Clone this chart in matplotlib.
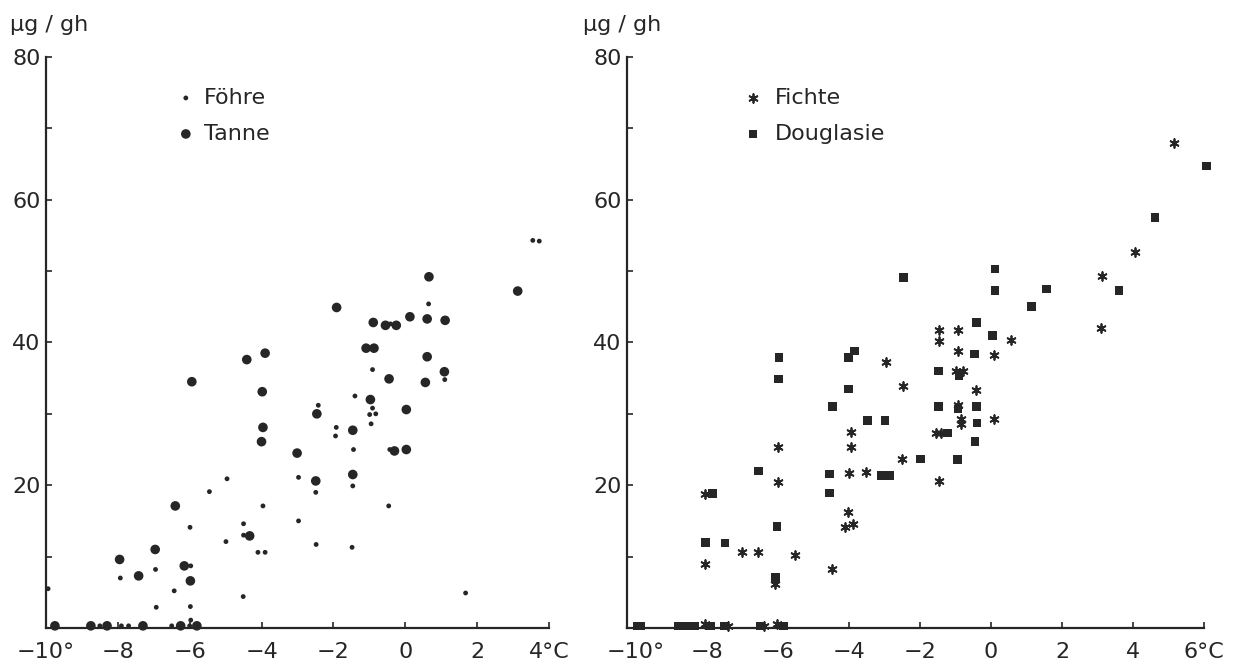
import matplotlib
matplotlib.use('Agg')
import matplotlib.pyplot as plt

# --- data (x = temperature degC, y = ug/gh) ---
foehre_x = [-0.41, 0.65, 3.55, 3.73, -0.91, 1.1, -1.4, -2.42, -0.91, -0.99, -0.82, -0.95,
            -1.92, -1.94, -1.44, -0.43, -1.46, -2.49, -2.97, -4.96, -5.45, -3.96, -0.46,
            -5.99, -4.5, -4.5, -4.99, -2.97, -4.1, -3.9, -2.48, -1.48, -5.97, -6.95, -7.93,
            -6.43, -6.93, -5.98, -5.97, -4.51, -9.94, 1.68,
            -8.5, -7.9, -7.7, -6.5, -6.0]
foehre_y = [42.6, 45.4, 54.3, 54.2, 36.2, 34.8, 32.5, 31.2, 30.8, 29.9, 30.0, 28.6,
            28.1, 26.9, 25.0, 25.0, 19.9, 19.0, 21.1, 20.9, 19.1, 17.1, 17.1,
            14.1, 14.6, 13.0, 12.1, 15.0, 10.6, 10.6, 11.7, 11.3, 8.7, 8.2, 7.0,
            5.2, 2.9, 3.0, 1.1, 4.4, 5.5, 4.9,
            0.3, 0.3, 0.3, 0.3, 0.3]

tanne_x = [-0.89, -0.55, -0.25, 0.13, 0.61, 1.11, 0.66, 3.13, -1.91, -3.9, -4.41, -5.94,
           -1.09, -0.87, 0.61, 1.09, -0.45, 0.56, -3.98, -0.97, 0.03, -2.46, -3.96, -4.0,
           -1.46, -3.01, -0.3, 0.03, -1.46, -2.49, -6.4, -4.33, -6.96, -7.95, -6.15, -7.42,
           -5.98,
           -9.75, -8.75, -8.3, -7.3, -6.25, -5.8]
tanne_y = [42.8, 42.4, 42.4, 43.6, 43.3, 43.1, 49.2, 47.2, 44.9, 38.5, 37.6, 34.5,
           39.2, 39.2, 38.0, 35.9, 34.9, 34.4, 33.1, 32.0, 30.6, 30.0, 28.1, 26.1,
           27.7, 24.5, 24.8, 25.0, 21.5, 20.6, 17.1, 12.9, 11.0, 9.6, 8.7, 7.3,
           6.6,
           0.3, 0.3, 0.3, 0.3, 0.3, 0.3]

fichte_x = [-1.45, -0.92, -1.45, -0.93, -2.96, -0.99, -0.8, -2.47, -0.43, -0.94, -0.85,
            -0.85, 0.08, 0.56, 0.08, -3.95, -3.95, -6.01, -1.56, -1.41, -2.5, -4.0, -3.53,
            -1.47, -6.01, -8.04, -4.03, -4.12, -3.89, -7.02, -6.56, -5.51, -8.05, -4.48,
            -6.08, 5.16, 4.05, 3.13, 3.09,
            -8.05, -7.4, -6.4, -6.02]
fichte_y = [41.8, 41.8, 40.2, 38.8, 37.2, 36.0, 36.0, 33.9, 33.3, 31.3, 29.3,
            28.6, 29.3, 40.3, 38.2, 27.5, 25.4, 25.4, 27.3, 27.3, 23.7, 21.7, 21.9,
            20.6, 20.5, 18.8, 16.2, 14.2, 14.5, 10.6, 10.6, 10.2, 8.9, 8.3,
            6.1, 67.9, 52.7, 49.3, 42.0,
            0.5, 0.3, 0.3, 0.6]

doug_x = [-5.97, -5.99, -4.02, -3.84, -1.47, -0.9, -4.02, -4.47, -1.47, -0.93, -0.41,
          -3.47, -2.98, -0.39, -1.22, -0.45, -1.98, -0.94, -6.54, -4.55, -3.1, -2.85,
          -7.85, -4.55, -6.03, -8.04, -7.49, -6.07, -2.47, 0.11, 0.11, 1.56, 1.14,
          -0.41, 0.04, -0.46, 6.07, 4.62, 3.6,
          -9.95, -9.85, -8.8, -8.55, -8.35, -7.9, -7.5, -6.5, -5.85]
doug_y = [37.9, 34.9, 37.9, 38.8, 36.0, 35.4, 33.5, 31.0, 31.0, 30.7, 31.0,
          29.1, 29.1, 28.7, 27.3, 26.1, 23.7, 23.6, 22.0, 21.6, 21.4, 21.4,
          18.8, 18.9, 14.2, 12.0, 11.9, 7.1, 49.1, 50.3, 47.3, 47.5, 45.0,
          42.8, 41.0, 38.4, 64.7, 57.5, 47.3,
          0.3, 0.3, 0.3, 0.3, 0.3, 0.3, 0.3, 0.3, 0.3]

yticks = [10, 20, 30, 40, 50, 60, 70, 80]
ylabels = ['', '20', '', '40', '', '60', '', '80']
left_xticks = [-10, -8, -6, -4, -2, 0, 2, 4]
left_xlabels = ['−10°', '−8', '−6', '−4', '−2', '0', '2', '4°C']
right_xticks = [-10, -8, -6, -4, -2, 0, 2, 4, 6]
right_xlabels = ['−10°', '−8', '−6', '−4', '−2', '0', '2', '4', '6°C']

ink = '#262626'
plt.rcParams['font.family'] = ['DejaVu Sans']
plt.rcParams['text.color'] = ink

fig = plt.figure(figsize=(12.35, 6.66), dpi=100)
ax1 = fig.add_axes([0.0372, 0.0571, 0.4073, 0.8574])
ax2 = fig.add_axes([0.5077, 0.0571, 0.4672, 0.8574])


def style(ax, xticks, xlabels, xlim):
    ax.set_xlim(*xlim)
    ax.set_ylim(0, 80)
    for s in ['top', 'right']:
        ax.spines[s].set_visible(False)
    for s in ['left', 'bottom']:
        ax.spines[s].set_linewidth(1.6)
        ax.spines[s].set_color(ink)
    ax.set_xticks(xticks)
    ax.set_xticklabels(xlabels)
    ax.set_yticks(yticks)
    ax.set_yticklabels(ylabels)
    ax.tick_params(axis='both', direction='in', length=4, width=1.2, colors=ink,
                   labelsize=16, labelcolor=ink)
    ax.tick_params(axis='x', pad=10)
    ax.tick_params(axis='y', pad=4)


style(ax1, left_xticks, left_xlabels, (-10, 4))
style(ax2, right_xticks, right_xlabels, (-10.25, 6))

ax1.scatter(foehre_x, foehre_y, s=12, color=ink, edgecolors='none', clip_on=False,
            zorder=3, label='Föhre')
ax1.scatter(tanne_x, tanne_y, s=48, color=ink, edgecolors='none', clip_on=False,
            zorder=3, label='Tanne')

ax2.scatter(fichte_x, fichte_y, s=40, marker=(6, 2, 0), color=ink, linewidths=1.3,
            clip_on=False, zorder=3, label='Fichte')
ax2.scatter(doug_x, doug_y, s=38, marker='s', color=ink, edgecolors='none',
            clip_on=False, zorder=3, label='Douglasie')

ax1.legend(loc='upper left', bbox_to_anchor=(0.256, 0.946), frameon=False, fontsize=16,
           borderpad=0, borderaxespad=0, handlelength=1.0, handletextpad=0.3,
           labelspacing=0.72)
ax2.legend(loc='upper left', bbox_to_anchor=(0.199, 0.946), frameon=False, fontsize=16,
           borderpad=0, borderaxespad=0, handlelength=1.0, handletextpad=0.5,
           labelspacing=0.72)

fig.text(10 / 1235, 1 - 25 / 666, 'µg / gh', fontsize=16, va='center', ha='left')
fig.text(583 / 1235, 1 - 25 / 666, 'µg / gh', fontsize=16, va='center', ha='left')

fig.savefig('out.png', dpi=100, facecolor='white')
